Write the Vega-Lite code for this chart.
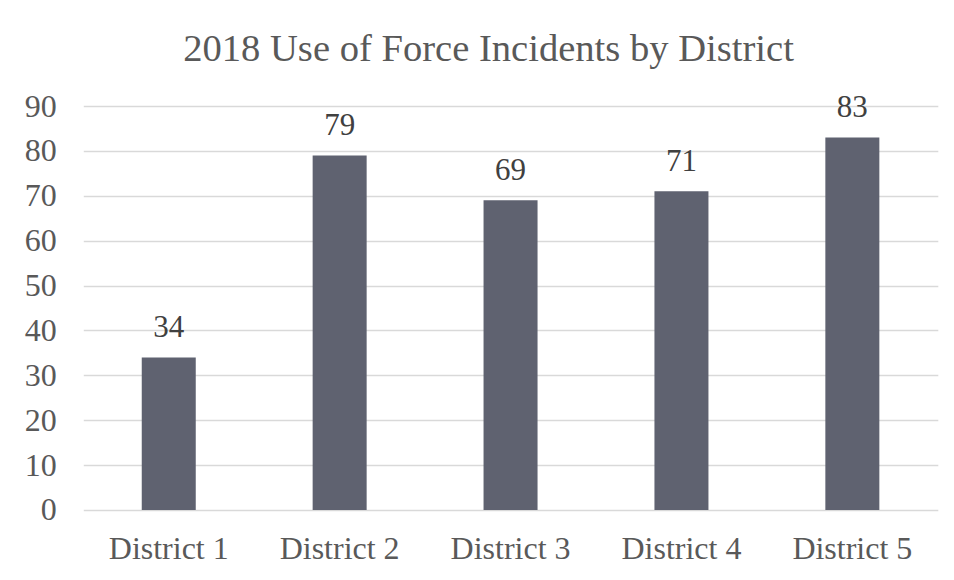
{
  "$schema": "https://vega.github.io/schema/vega-lite/v6.json",
  "width": 854.5,
  "height": 404,
  "autosize": "none",
  "padding": {"left": 83.3, "top": 106, "right": 16, "bottom": 70},
  "background": "#ffffff",
  "title": {
    "text": "2018 Use of Force Incidents by District",
    "font": "Liberation Serif",
    "fontSize": 38.6,
    "fontWeight": "normal",
    "color": "#595959",
    "anchor": "middle",
    "dx": -22,
    "baseline": "alphabetic",
    "offset": -10
  },
  "data": {
    "values": [
      {"district": "District 1", "count": 34},
      {"district": "District 2", "count": 79},
      {"district": "District 3", "count": 69},
      {"district": "District 4", "count": 71},
      {"district": "District 5", "count": 83}
    ]
  },
  "encoding": {
    "x": {
      "field": "district",
      "type": "nominal",
      "sort": null,
      "scale": {"paddingInner": 0.684, "paddingOuter": 0.342},
      "axis": {
        "title": null,
        "labelAngle": 0,
        "domain": false,
        "ticks": false,
        "labelFont": "Liberation Serif",
        "labelFontSize": 32,
        "labelColor": "#595959",
        "labelBaseline": "alphabetic",
        "labelPadding": 49
      }
    },
    "y": {
      "field": "count",
      "type": "quantitative",
      "scale": {"domain": [0, 90], "nice": false},
      "axis": {
        "title": null,
        "values": [0, 10, 20, 30, 40, 50, 60, 70, 80, 90],
        "domain": false,
        "ticks": false,
        "grid": true,
        "gridColor": "#d9d9d9",
        "gridWidth": 1.3,
        "labelFont": "Liberation Serif",
        "labelFontSize": 32,
        "labelColor": "#595959",
        "labelPadding": 27
      }
    }
  },
  "layer": [
    {"mark": {"type": "bar", "color": "#5f6270"}},
    {
      "mark": {
        "type": "text",
        "font": "Liberation Serif",
        "fontSize": 31,
        "color": "#404040",
        "baseline": "alphabetic",
        "dy": -20
      },
      "encoding": {"text": {"field": "count", "type": "quantitative"}}
    }
  ],
  "config": {"view": {"stroke": null}}
}
